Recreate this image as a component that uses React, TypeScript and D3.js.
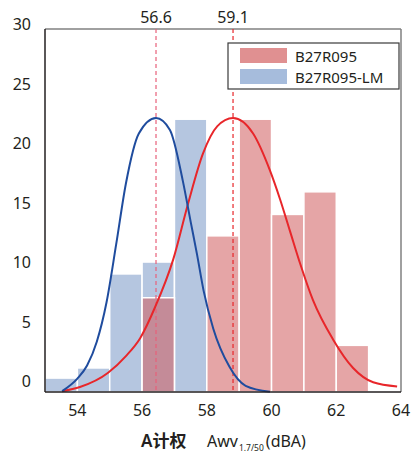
import React, { useEffect, useRef } from 'react';
import * as d3 from 'd3';

// histogram bins (lower edge, dBA)
const binStarts = [53, 54, 55, 56, 57, 58, 59, 60, 61, 62];
const lmCounts = [0.25, 1.1, 9, 10, 22, 0, 0, 0, 0, 0];
const refCounts = [0, 0, 0, 7, 0, 12.2, 22, 14, 15.9, 3];

// fitted curves: [x, y]
const lmCurve: [number, number][] = [
  [53.53, -0.85], [54.0, 0.2], [54.3, 1.3], [54.6, 3.3], [54.9, 6.6], [55.2, 11.5],
  [55.5, 16.6], [55.9, 20.8], [56.43, 22.1], [56.86, 21.1], [57.26, 16.8], [57.5, 13.4],
  [57.7, 10.6], [57.9, 7.6], [58.2, 4.4], [58.7, 1.2], [59.2, -0.4], [59.95, -0.9],
];
const refCurve: [number, number][] = [
  [53.53, -0.85], [54.08, -0.5], [54.95, 0.7], [55.5, 2.1], [55.94, 3.6], [56.4, 6.2],
  [56.96, 10.2], [57.42, 14.9], [57.88, 19.1], [58.32, 21.4], [58.81, 22.1], [59.43, 20.8],
  [59.95, 17.7], [60.26, 15.3], [60.57, 12.6], [60.88, 9.9], [61.28, 6.8], [61.9, 3.5],
  [62.52, 1.1], [63.14, -0.1], [63.88, -0.45],
];

const meanLines = [
  { at: 56.43, label: '56.6', color: '#e8607a' },
  { at: 58.81, label: '59.1', color: '#e8262a' },
];
const xTicks = [54, 56, 58, 60, 62, 64];
const yTicks = [0, 5, 10, 15, 20, 25, 30];
const seriesNames = ['B27R095', 'B27R095-LM'];

const W = 411;
const H = 454;
const FONT = '"Noto Sans", "Noto Sans CJK SC", sans-serif';
const INK = '#231f20';

export default function App() {
  const ref = useRef<SVGSVGElement>(null);

  useEffect(() => {
    const svg = d3.select(ref.current);
    svg.selectAll('*').remove();

    const x = d3.scaleLinear().domain([53, 64]).range([45, 401]);
    const y = d3.scaleLinear().domain([-0.92, 29.58]).range([392, 29]);
    const [x0, x1] = x.range();
    const [yb, yt] = y.range();

    const g = svg.append('g');

    // bars
    const bar = (counts: number[], fill: string, opacity: number) => {
      g.append('g')
        .selectAll('rect')
        .data(binStarts.map((b, i) => ({ b, v: counts[i] })).filter(d => d.v > 0))
        .enter()
        .append('rect')
        .attr('x', d => x(d.b))
        .attr('width', d => x(d.b + 1) - x(d.b))
        .attr('y', d => y(d.v))
        .attr('height', d => yb - y(d.v))
        .attr('fill', fill)
        .attr('fill-opacity', opacity)
        .attr('stroke', '#fff')
        .attr('stroke-width', 1.5);
    };
    bar(lmCounts, '#b5c6e0', 1);
    bar(refCounts, '#d05b5d', 0.55);

    // frame (top / right)
    g.append('line').attr('x1', x0).attr('x2', x1).attr('y1', yt).attr('y2', yt)
      .attr('stroke', '#808080').attr('stroke-width', 1.5);
    g.append('line').attr('x1', x1).attr('x2', x1).attr('y1', yt).attr('y2', yb)
      .attr('stroke', '#808080').attr('stroke-width', 1.5);

    // mean lines
    meanLines.forEach(m => {
      g.append('line')
        .attr('x1', x(m.at)).attr('x2', x(m.at))
        .attr('y1', yt).attr('y2', yb)
        .attr('stroke', m.color)
        .attr('stroke-width', 1.2)
        .attr('stroke-dasharray', '4,3');
      g.append('text')
        .attr('x', x(m.at)).attr('y', 23)
        .attr('text-anchor', 'middle')
        .attr('font-size', 16)
        .attr('fill', INK)
        .text(m.label);
    });

    // curves
    const line = d3.line<[number, number]>()
      .x(d => x(d[0]))
      .y(d => y(d[1]))
      .curve(d3.curveMonotoneX);
    g.append('path').attr('d', line(refCurve)).attr('fill', 'none')
      .attr('stroke', '#e8262a').attr('stroke-width', 2);
    g.append('path').attr('d', line(lmCurve)).attr('fill', 'none')
      .attr('stroke', '#1f4c9e').attr('stroke-width', 2);

    // axes (left / bottom)
    g.append('line').attr('x1', x0).attr('x2', x0).attr('y1', yt).attr('y2', yb)
      .attr('stroke', INK).attr('stroke-width', 1.5);
    g.append('line').attr('x1', x0).attr('x2', x1).attr('y1', yb).attr('y2', yb)
      .attr('stroke', INK).attr('stroke-width', 1.5);

    // tick labels
    g.selectAll('.xt').data(xTicks).enter().append('text')
      .attr('x', d => x(d)).attr('y', 416)
      .attr('text-anchor', 'middle')
      .attr('font-size', 16).attr('fill', INK)
      .text(d => d);
    g.selectAll('.yt').data(yTicks).enter().append('text')
      .attr('x', 31).attr('y', d => y(d) + 6)
      .attr('text-anchor', 'end')
      .attr('font-size', 16).attr('fill', INK)
      .text(d => d);

    // x title
    g.append('text').attr('x', 141).attr('y', 447)
      .attr('font-size', 17).attr('font-weight', 600).attr('fill', INK)
      .text('A计权');
    const t = g.append('text').attr('x', 207).attr('y', 447)
      .attr('font-size', 16).attr('fill', INK);
    t.append('tspan').text('Awv');
    t.append('tspan').attr('font-size', 8.5).attr('dy', 4).attr('dx', 1).text('1.7/50');
    t.append('tspan').attr('dx', 2).attr('dy', -4).text('(dBA)');

    // legend
    const lg = g.append('g');
    lg.append('rect').attr('x', 228).attr('y', 43).attr('width', 171).attr('height', 46)
      .attr('fill', '#fff').attr('stroke', '#3a3a3a').attr('stroke-width', 1.2);
    const colors = ['#e09091', '#a6bcdc'];
    seriesNames.forEach((name, i) => {
      lg.append('rect').attr('x', 240).attr('y', 48 + i * 21).attr('width', 47).attr('height', 15)
        .attr('fill', colors[i]);
      lg.append('text').attr('x', 295).attr('y', 62 + i * 21)
        .attr('font-size', 15).attr('fill', INK).text(name);
    });
  }, []);

  return (
    <svg
      ref={ref}
      width={W}
      height={H}
      style={{ position: 'absolute', left: 0, top: 0, fontFamily: FONT, background: '#fff' }}
    />
  );
}
